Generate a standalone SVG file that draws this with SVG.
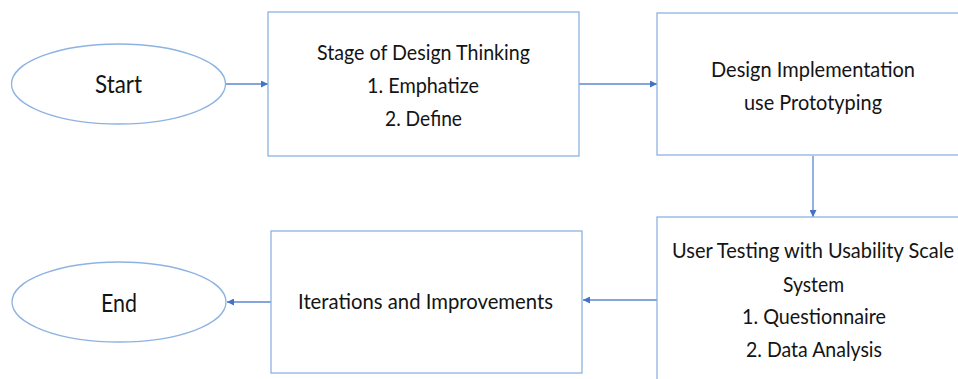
<svg xmlns="http://www.w3.org/2000/svg" width="958" height="379" viewBox="0 0 958 379">
  <style>
    .shape { fill: #ffffff; stroke: #8db3e2; stroke-width: 1.3; }
    .link { fill: none; stroke: #5b87d0; stroke-width: 1.3; }
    .label { font-family: Lato, "Open Sans", "Liberation Sans", sans-serif; font-size: 22px; fill: #141414; text-anchor: middle; }
    .term { font-size: 25px; }
  </style>
  <defs>
    <marker id="arrow" viewBox="0 0 10 10" refX="10" refY="5" markerWidth="7" markerHeight="7" markerUnits="userSpaceOnUse" orient="auto">
      <path d="M0,0 L10,5 L0,10 z" fill="#4472c4"/>
    </marker>
  </defs>
  <rect width="958" height="379" fill="#ffffff"/>

  <!-- connectors -->
  <g id="connectors">
    <line class="link" x1="226" y1="84" x2="268" y2="84" marker-end="url(#arrow)"/>
    <line class="link" x1="579" y1="84" x2="657" y2="84" marker-end="url(#arrow)"/>
    <line class="link" x1="813" y1="156" x2="813" y2="217" marker-end="url(#arrow)"/>
    <line class="link" x1="657" y1="300" x2="583" y2="300" marker-end="url(#arrow)"/>
    <line class="link" x1="271" y1="302" x2="227" y2="302" marker-end="url(#arrow)"/>
  </g>

  <g id="start">
    <ellipse class="shape" cx="118.5" cy="84" rx="107" ry="40"/>
    <text class="label term" x="118.5" y="93" textLength="47" lengthAdjust="spacingAndGlyphs">Start</text>
  </g>

  <g id="design-thinking">
    <rect class="shape" x="268" y="12" width="311" height="144"/>
    <text class="label" x="423.5" y="60" textLength="213" lengthAdjust="spacingAndGlyphs">Stage of Design Thinking</text>
    <text class="label" x="423" y="93" textLength="112" lengthAdjust="spacingAndGlyphs">1. Emphatize</text>
    <text class="label" x="423.5" y="126" textLength="77" lengthAdjust="spacingAndGlyphs">2. Define</text>
  </g>

  <g id="implementation">
    <rect class="shape" x="657" y="13" width="320" height="142"/>
    <text class="label" x="813" y="77" textLength="204" lengthAdjust="spacingAndGlyphs">Design Implementation</text>
    <text class="label" x="813" y="110" textLength="138" lengthAdjust="spacingAndGlyphs">use Prototyping</text>
  </g>

  <g id="user-testing">
    <rect class="shape" x="657" y="217" width="320" height="180"/>
    <text class="label" x="813" y="258" textLength="282" lengthAdjust="spacingAndGlyphs">User Testing with Usability Scale</text>
    <text class="label" x="813.5" y="292" textLength="61" lengthAdjust="spacingAndGlyphs">System</text>
    <text class="label" x="814" y="324" textLength="144" lengthAdjust="spacingAndGlyphs">1. Questionnaire</text>
    <text class="label" x="814" y="357" textLength="136" lengthAdjust="spacingAndGlyphs">2. Data Analysis</text>
  </g>

  <g id="iterations">
    <rect class="shape" x="271" y="231" width="311" height="142"/>
    <text class="label" x="425.5" y="309" textLength="255" lengthAdjust="spacingAndGlyphs">Iterations and Improvements</text>
  </g>

  <g id="end">
    <ellipse class="shape" cx="119" cy="302" rx="107" ry="40"/>
    <text class="label term" x="119" y="312" textLength="36" lengthAdjust="spacingAndGlyphs">End</text>
  </g>
</svg>
